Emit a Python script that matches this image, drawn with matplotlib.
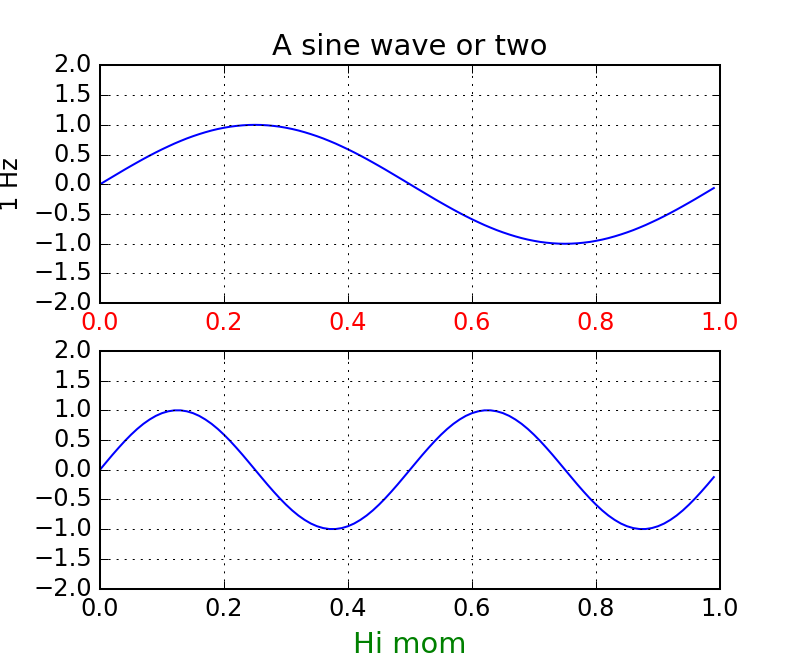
import matplotlib
matplotlib.use('Agg')
import matplotlib.pyplot as plt

plt.style.use('classic')

# sample times (s), 0.00 .. 0.99
t = [0.00, 0.01, 0.02, 0.03, 0.04, 0.05, 0.06, 0.07, 0.08, 0.09,
     0.10, 0.11, 0.12, 0.13, 0.14, 0.15, 0.16, 0.17, 0.18, 0.19,
     0.20, 0.21, 0.22, 0.23, 0.24, 0.25, 0.26, 0.27, 0.28, 0.29,
     0.30, 0.31, 0.32, 0.33, 0.34, 0.35, 0.36, 0.37, 0.38, 0.39,
     0.40, 0.41, 0.42, 0.43, 0.44, 0.45, 0.46, 0.47, 0.48, 0.49,
     0.50, 0.51, 0.52, 0.53, 0.54, 0.55, 0.56, 0.57, 0.58, 0.59,
     0.60, 0.61, 0.62, 0.63, 0.64, 0.65, 0.66, 0.67, 0.68, 0.69,
     0.70, 0.71, 0.72, 0.73, 0.74, 0.75, 0.76, 0.77, 0.78, 0.79,
     0.80, 0.81, 0.82, 0.83, 0.84, 0.85, 0.86, 0.87, 0.88, 0.89,
     0.90, 0.91, 0.92, 0.93, 0.94, 0.95, 0.96, 0.97, 0.98, 0.99]

# top panel (1 Hz)
wave_1hz = [0.000, 0.063, 0.125, 0.187, 0.249, 0.309, 0.368, 0.426, 0.482, 0.536,
            0.588, 0.637, 0.685, 0.729, 0.771, 0.809, 0.844, 0.876, 0.905, 0.930,
            0.951, 0.969, 0.982, 0.992, 0.998, 1.000, 0.998, 0.992, 0.982, 0.969,
            0.951, 0.930, 0.905, 0.876, 0.844, 0.809, 0.771, 0.729, 0.685, 0.637,
            0.588, 0.536, 0.482, 0.426, 0.368, 0.309, 0.249, 0.187, 0.125, 0.063,
            0.000, -0.063, -0.125, -0.187, -0.249, -0.309, -0.368, -0.426, -0.482, -0.536,
            -0.588, -0.637, -0.685, -0.729, -0.771, -0.809, -0.844, -0.876, -0.905, -0.930,
            -0.951, -0.969, -0.982, -0.992, -0.998, -1.000, -0.998, -0.992, -0.982, -0.969,
            -0.951, -0.930, -0.905, -0.876, -0.844, -0.809, -0.771, -0.729, -0.685, -0.637,
            -0.588, -0.536, -0.482, -0.426, -0.368, -0.309, -0.249, -0.187, -0.125, -0.063]

# bottom panel (2 Hz)
wave_2hz = [0.000, 0.125, 0.249, 0.368, 0.482, 0.588, 0.685, 0.771, 0.844, 0.905,
            0.951, 0.982, 0.998, 0.998, 0.982, 0.951, 0.905, 0.844, 0.771, 0.685,
            0.588, 0.482, 0.368, 0.249, 0.125, 0.000, -0.125, -0.249, -0.368, -0.482,
            -0.588, -0.685, -0.771, -0.844, -0.905, -0.951, -0.982, -0.998, -0.998, -0.982,
            -0.951, -0.905, -0.844, -0.771, -0.685, -0.588, -0.482, -0.368, -0.249, -0.125,
            0.000, 0.125, 0.249, 0.368, 0.482, 0.588, 0.685, 0.771, 0.844, 0.905,
            0.951, 0.982, 0.998, 0.998, 0.982, 0.951, 0.905, 0.844, 0.771, 0.685,
            0.588, 0.482, 0.368, 0.249, 0.125, 0.000, -0.125, -0.249, -0.368, -0.482,
            -0.588, -0.685, -0.771, -0.844, -0.905, -0.951, -0.982, -0.998, -0.998, -0.982,
            -0.951, -0.905, -0.844, -0.771, -0.685, -0.588, -0.482, -0.368, -0.249, -0.125]

dpi = 145
fig = plt.figure(figsize=(800.01 / dpi, 654.01 / dpi), dpi=dpi)

ax1 = fig.add_subplot(211)
ax1.plot(t, wave_1hz, color='b')
ax1.grid(True)
ax1.set_ylim(-2, 2)
ax1.set_ylabel('1 Hz')
ax1.set_title('A sine wave or two')
for lbl in ax1.get_xticklabels():
    lbl.set_color('r')

ax2 = fig.add_subplot(212)
ax2.plot(t, wave_2hz, color='b')
ax2.grid(True)
ax2.set_ylim(-2, 2)
xl = ax2.set_xlabel('Hi mom')
xl.set_color('g')
xl.set_fontsize('large')

fig.savefig('out.png', dpi=dpi)
